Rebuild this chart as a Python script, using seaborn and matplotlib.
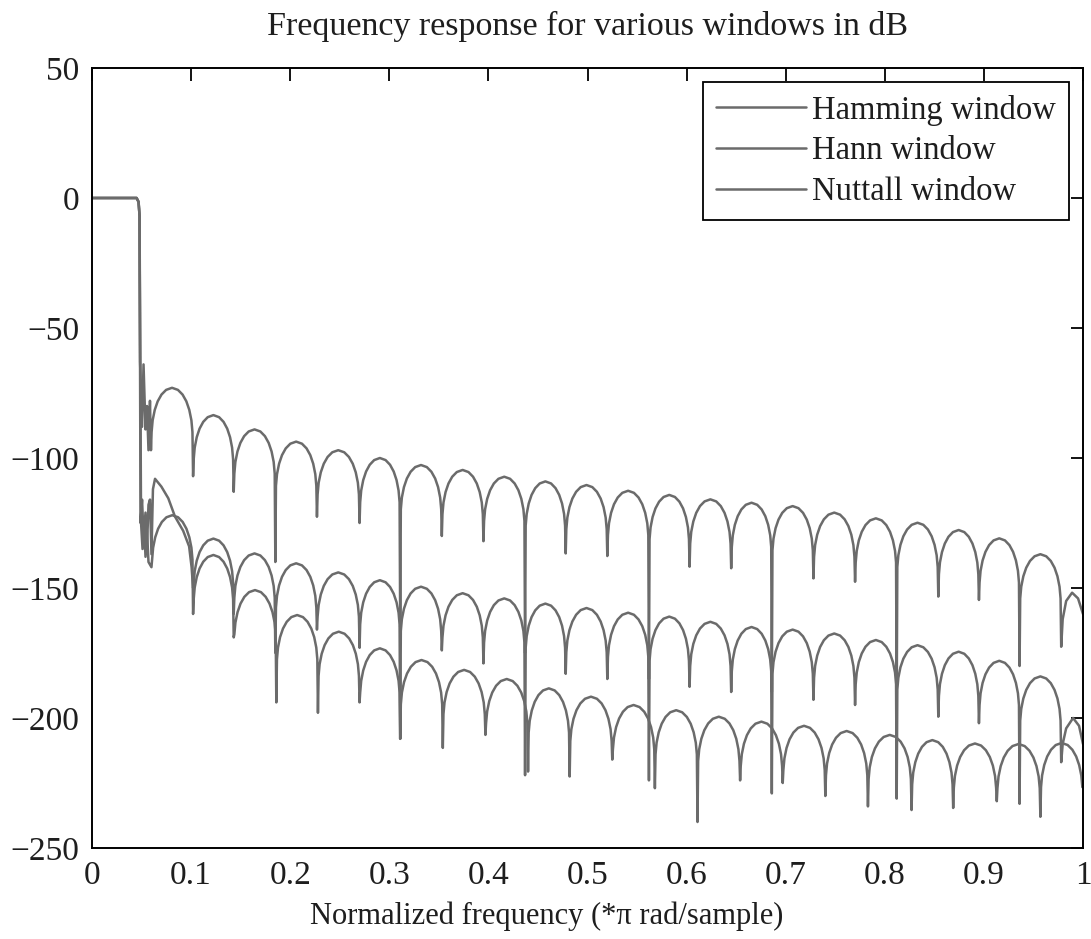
import numpy as np
import pandas as pd
import matplotlib
matplotlib.use("Agg")
import matplotlib.pyplot as plt
from matplotlib.lines import Line2D
import seaborn as sns

# ---------------- text ----------------
TITLE = "Frequency response for various windows in dB"
XLABEL = "Normalized frequency (*π rad/sample)"
SERIES = ["Hamming window", "Hann window", "Nuttall window"]

X_TICKS = [0.0, 0.1, 0.2, 0.3, 0.4, 0.5, 0.6, 0.7, 0.8, 0.9, 1.0]
X_TICK_LABELS = ["0", "0.1", "0.2", "0.3", "0.4", "0.5", "0.6", "0.7", "0.8", "0.9", "1"]
Y_TICKS = [-250, -200, -150, -100, -50, 0, 50]

# ---------------- data ----------------
# shared passband and start of the transition
PASS_X = [0.0, 0.045, 0.047, 0.048]
PASS_DB = [0.0, 0.0, -1.5, -7.0]

# Hamming window
HAMMING_HEAD_X = [0.0485, 0.0505, 0.052, 0.054, 0.0555, 0.057, 0.0585]
HAMMING_HEAD_DB = [-63, -88, -64, -89, -80, -97, -78]
HAMMING_NULL_X = [0.0595, 0.102, 0.143, 0.185, 0.227, 0.270, 0.311, 0.353, 0.395, 0.437,
                  0.478, 0.520, 0.562, 0.603, 0.645, 0.686, 0.728, 0.770, 0.812, 0.854,
                  0.895, 0.936, 0.978]
HAMMING_NULL_DB = [-97, -107, -113, -140, -122.6, -125, -165, -130, -132, -175,
                   -136.7, -137.7, -185, -141.8, -142.4, -190, -146.3, -147.6, -195, -153.3,
                   -154.6, -180, -172.6]
HAMMING_PEAK_DB = [-73, -83.5, -89, -93.7, -97, -100, -102.7, -104.6, -107.2, -109,
                   -110.4, -112.6, -114.2, -115.9, -117.2, -118.5, -121, -123.2, -124.9,
                   -127.7, -130.9, -137]
HAMMING_TAIL_X = [0.9795, 0.983, 0.989, 0.995, 1.0]
HAMMING_TAIL_DB = [-162, -155, -151.8, -154, -160]

# Hann window
HANN_HEAD_X = [0.049, 0.0505, 0.052, 0.054, 0.0555, 0.057, 0.0585, 0.060, 0.0615, 0.0636,
               0.070, 0.077, 0.0837, 0.092, 0.098, 0.1005]
HANN_HEAD_DB = [-125, -116, -130, -121, -134, -118, -116, -137, -112, -108,
                -111, -115.5, -122.5, -128, -134, -142]
HANN_NULL_X = [0.102, 0.143, 0.185, 0.227, 0.270, 0.311, 0.353, 0.395, 0.437, 0.478,
               0.520, 0.562, 0.603, 0.645, 0.686, 0.728, 0.770, 0.812, 0.854, 0.895,
               0.936, 0.978]
HANN_NULL_DB = [-150, -160, -175, -166, -173, -208, -174, -179, -222, -183,
                -185, -224, -188, -190, -229, -193, -195, -231, -199.5, -202,
                -233, -217]
HANN_PEAK_DB = [-131, -136.7, -140.5, -144, -147, -149.5, -152, -154, -156, -157.7,
                -159.5, -161, -163, -165, -166, -167.5, -170, -172, -174.5, -178, -184]
HANN_TAIL_X = [0.9795, 0.983, 0.990, 0.996, 1.0]
HANN_TAIL_DB = [-210, -204, -200, -203, -210]

# Nuttall window
NUTTALL_HEAD_X = [0.0495, 0.051, 0.0525, 0.054, 0.0555, 0.057]
NUTTALL_HEAD_DB = [-125, -135, -126, -138, -128, -140]
NUTTALL_NULL_X = [0.060, 0.102, 0.143, 0.186, 0.228, 0.270, 0.311, 0.354, 0.397, 0.440,
                  0.482, 0.525, 0.568, 0.611, 0.654, 0.697, 0.740, 0.783, 0.827, 0.869,
                  0.913, 0.957, 1.000]
NUTTALL_NULL_DB = [-142, -160, -169, -194, -198, -194, -208, -211.5, -206.5, -220.6,
                   -222.5, -216, -227, -240, -224, -225, -230, -234, -235.4, -234.6,
                   -232, -238, -224]
NUTTALL_PEAK_DB = [-122, -137.3, -150.8, -160.4, -166.8, -173.2, -177.7, -181.5, -185,
                   -188.6, -191.8, -195, -197, -199.5, -201.4, -203, -205, -206.5, -208.5,
                   -209.8, -210, -209.6]
NUTTALL_TAIL_X = []
NUTTALL_TAIL_DB = []

# drawing style of one side lobe (fraction of lobe width, dB below lobe peak)
LOBE_FRAC = [0.015, 0.04, 0.09, 0.16, 0.25, 0.36, 0.5, 0.64, 0.75, 0.84, 0.91, 0.96, 0.985]
LOBE_DROP = [17, 12.5, 8.5, 5.2, 2.6, 0.8, 0, 0.8, 2.6, 5.2, 8.5, 12.5, 17]

LINE_COLOR = "#6b6b6b"
TEXT_COLOR = "#1e1e1e"


def build_curve(head_x, head_db, null_x, null_db, peak_db, tail_x, tail_db):
    xs = list(PASS_X) + list(head_x)
    ys = list(PASS_DB) + list(head_db)
    for i in range(len(null_x)):
        xs.append(null_x[i])
        ys.append(null_db[i])
        if i < len(peak_db) and i + 1 < len(null_x):
            a, b = null_x[i], null_x[i + 1]
            for f, d in zip(LOBE_FRAC, LOBE_DROP):
                xs.append(a + f * (b - a))
                ys.append(peak_db[i] - d)
    xs += list(tail_x)
    ys += list(tail_db)
    return xs, ys


curves = [
    build_curve(HAMMING_HEAD_X, HAMMING_HEAD_DB, HAMMING_NULL_X, HAMMING_NULL_DB,
                HAMMING_PEAK_DB, HAMMING_TAIL_X, HAMMING_TAIL_DB),
    build_curve(HANN_HEAD_X, HANN_HEAD_DB, HANN_NULL_X, HANN_NULL_DB,
                HANN_PEAK_DB, HANN_TAIL_X, HANN_TAIL_DB),
    build_curve(NUTTALL_HEAD_X, NUTTALL_HEAD_DB, NUTTALL_NULL_X, NUTTALL_NULL_DB,
                NUTTALL_PEAK_DB, NUTTALL_TAIL_X, NUTTALL_TAIL_DB),
]

frames = []
for name, (xs, ys) in zip(SERIES, curves):
    frames.append(pd.DataFrame({"x": xs, "dB": ys, "window": name}))
df = pd.concat(frames, ignore_index=True)

# ---------------- plotting ----------------
sns.set_theme(style="white")
plt.rcParams["font.family"] = ["Liberation Serif", "DejaVu Serif"]
plt.rcParams["axes.unicode_minus"] = True

fig = plt.figure(figsize=(10.91, 9.39), dpi=100)
ax = fig.add_axes([92 / 1091, 1 - 848 / 939, (1083 - 92) / 1091, (848 - 68) / 939])

sns.lineplot(data=df, x="x", y="dB", hue="window", units="window",
             palette=[LINE_COLOR] * 3, estimator=None, sort=False,
             linewidth=1.8, ax=ax, legend=False)

ax.set_xlim(0, 1)
ax.set_ylim(-250, 50)
ax.set_xticks(X_TICKS)
ax.set_xticklabels(X_TICK_LABELS)
ax.set_yticks(Y_TICKS)
ax.tick_params(direction="in", length=9, width=1.3, top=True, right=True,
               labelsize=24, colors="black", labelcolor=TEXT_COLOR, pad=9)
for sp in ax.spines.values():
    sp.set_color("black")
    sp.set_linewidth(1.4)

ax.set_title(TITLE, fontsize=24.5, pad=24, color=TEXT_COLOR)
ax.set_xlabel(XLABEL, fontsize=22, labelpad=6, color=TEXT_COLOR)
ax.xaxis.set_label_coords((547 - 92) / 991, -0.068)
ax.set_ylabel("")

handles = [Line2D([0], [0], color=LINE_COLOR, lw=1.8) for _ in SERIES]
leg = ax.legend(handles, SERIES, loc="upper right", fontsize=23.5, frameon=True,
                fancybox=False, framealpha=1, edgecolor="black",
                handlelength=2.75, handletextpad=0.2, labelspacing=0.31,
                borderaxespad=0.42, borderpad=0.4)
leg.get_frame().set_linewidth(1.3)
for t in leg.get_texts():
    t.set_color(TEXT_COLOR)

fig.savefig("out.png", dpi=100)
